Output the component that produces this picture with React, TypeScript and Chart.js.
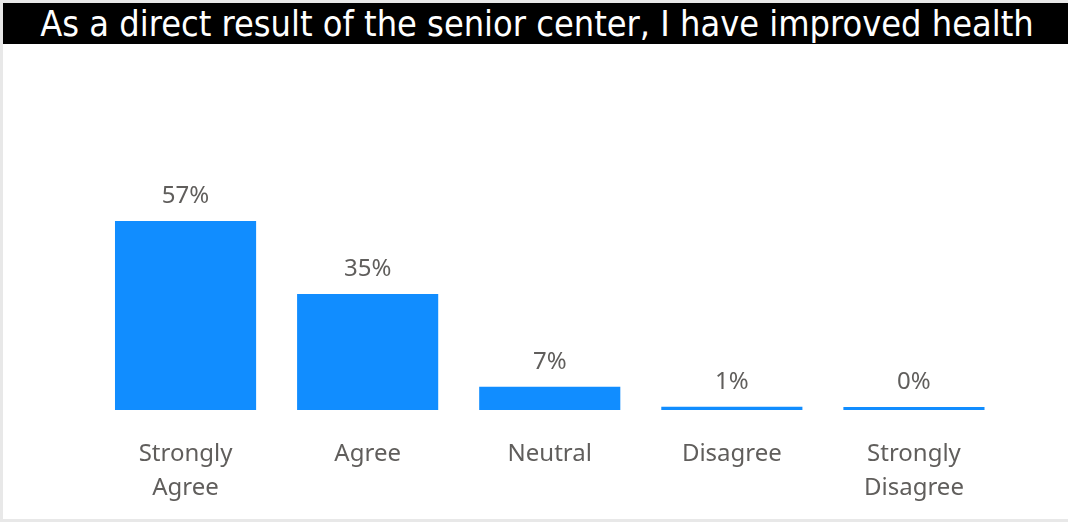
import React, { useEffect, useRef } from "react";
import { Chart, registerables } from "chart.js";

Chart.register(...registerables);

const titleText = "As a direct result of the senior center, I have improved health";
const categories: string[][] = [
  ["Strongly", "Agree"],
  ["Agree"],
  ["Neutral"],
  ["Disagree"],
  ["Strongly", "Disagree"],
];
const values: number[] = [57, 35, 7, 1, 0];
const yMin = 0;
const yMax = 100;

const labelColor = "#605E5C";
const barColor = "#118DFF";

const dataLabelPlugin = {
  id: "dataLabels",
  afterDatasetsDraw(chart: any) {
    const ctx = chart.ctx;
    const meta = chart.getDatasetMeta(0);
    ctx.save();
    ctx.font = "24px 'Noto Sans'";
    ctx.fillStyle = labelColor;
    ctx.textAlign = "center";
    ctx.textBaseline = "middle";
    meta.data.forEach((bar: any, i: number) => {
      const v = chart.data.datasets[0].data[i] as number;
      ctx.fillText(Math.round(v) + "%", bar.x, bar.y - 25);
    });
    ctx.restore();
  },
};

export default function App() {
  const canvasRef = useRef<HTMLCanvasElement | null>(null);

  useEffect(() => {
    document.body.style.margin = "0";
    const canvas = canvasRef.current;
    if (!canvas) return;
    const chart = new Chart(canvas, {
      type: "bar",
      data: {
        labels: categories,
        datasets: [
          {
            data: values,
            backgroundColor: barColor,
            barPercentage: 0.775,
            categoryPercentage: 1,
            minBarLength: 3,
          },
        ],
      },
      options: {
        animation: false,
        responsive: false,
        maintainAspectRatio: false,
        layout: { padding: { left: 91.5, right: 63, top: 34.4, bottom: 0 } },
        plugins: {
          legend: { display: false },
          tooltip: { enabled: false },
          title: { display: false },
        },
        scales: {
          x: {
            grid: { display: false },
            border: { display: false },
            ticks: {
              color: labelColor,
              font: { family: "'Noto Sans'", size: 24, lineHeight: "34px" as any },
              padding: 19,
              maxRotation: 0,
              autoSkip: false,
            },
            afterFit: (s: any) => {
              s.height = 109;
            },
          },
          y: {
            display: false,
            min: yMin,
            max: yMax,
          },
        },
      },
      plugins: [dataLabelPlugin],
    });
    return () => chart.destroy();
  }, []);

  return (
    <div
      style={{
        position: "absolute",
        left: 0,
        top: 0,
        width: 1068,
        height: 522,
        overflow: "hidden",
        background: "#fff",
      }}
    >
      <div
        style={{
          position: "absolute",
          left: 0,
          top: 0,
          width: 1080,
          height: 522,
          boxSizing: "border-box",
          border: "3px solid #E8E8E8",
        }}
      />
      <div
        style={{
          position: "absolute",
          left: 3,
          top: 3,
          width: 1065,
          height: 41,
          background: "#000",
          color: "#fff",
          fontFamily: "'DejaVu Sans Condensed', 'Liberation Sans Narrow', sans-serif",
          fontSize: 35.8,
          lineHeight: "41px",
          textAlign: "center",
          whiteSpace: "nowrap",
          overflow: "hidden",
        }}
      >
        <span id="title" style={{ display: "inline-block", marginLeft: 3 }}>{titleText}</span>
      </div>
      <canvas
        ref={canvasRef}
        width={1065}
        height={475}
        style={{ position: "absolute", left: 3, top: 44, width: 1065, height: 475 }}
      />
    </div>
  );
}
